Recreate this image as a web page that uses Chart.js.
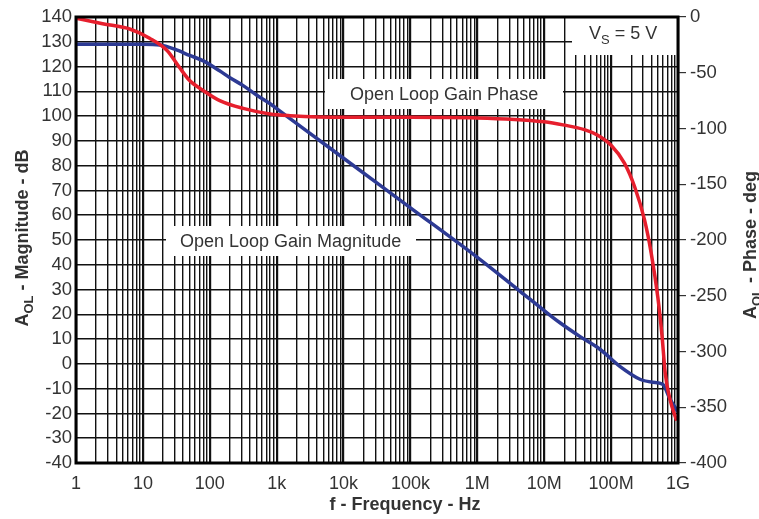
<!DOCTYPE html>
<html>
<head>
<meta charset="utf-8">
<script src="https://cdn.jsdelivr.net/npm/chart.js@4/dist/chart.umd.min.js"></script>
<style>
  html, body { margin: 0; padding: 0; background: #fff; }
  canvas { display: block; }
</style>
</head>
<body>
<canvas id="bode" width="759" height="519"></canvas>
<script>
// ── Data ─────────────────────────────────────────────────────────────────────

const DECADES = [1, 10, 100, 1e3, 1e4, 1e5, 1e6, 1e7, 1e8, 1e9];
const DECADE_LABELS = ['1', '10', '100', '1k', '10k', '100k', '1M', '10M', '100M', '1G'];

// open loop gain magnitude (dB, left axis)
const MAG_FREQ = [1, 10, 18, 30, 50, 80, 140, 200, 316, 500, 800, 1e3, 1e4, 1e5, 1e6,
  4.4e6, 1e7, 1.7e7, 3.4e7, 6.8e7, 1.35e8, 2.7e8, 4.2e8, 5.9e8, 7.6e8, 1e9];
const MAG_DB = [129, 129, 128.7, 127, 124.5, 122.3, 118.3, 115.5, 112.3, 108.5, 105, 103, 83, 63, 43,
  29.2, 21.5, 16.7, 11.1, 5.9, -1, -6.2, -7.4, -8.2, -14.2, -19.4];

// open loop gain phase (deg, right axis)
const PHASE_FREQ = [1, 2.5, 6.5, 12.6, 23, 35, 50, 80, 141, 316, 794, 1585, 1e4, 1e5, 1e6,
  1e7, 2e7, 3.98e7, 6.31e7, 1e8, 1.58e8, 2.24e8, 3.16e8, 3.98e8, 5.01e8, 5.75e8, 6.46e8, 7.59e8, 9.55e8];
const PHASE_DEG = [-1, -6, -11, -19, -30, -45, -57, -66, -75, -82, -87, -88.5, -90, -90, -90.5,
  -94, -97, -101, -106, -115, -131, -152, -182, -212, -252, -285, -320, -343, -362];

const MAG_RANGE = [-40, 140];
const PHASE_RANGE = [-400, 0];

// ── Helpers ──────────────────────────────────────────────────────────────────

const TEXT = '#333';
const FONT = '"Liberation Sans", Arial, sans-serif';

function isDecade(v) {
  const l = Math.log10(v);
  return Math.abs(l - Math.round(l)) < 1e-6;
}

function gridFreqs() {
  const out = [];
  DECADES.forEach((d, i) => {
    if (i === DECADES.length - 1) { out.push(d); return; }
    for (let m = 1; m <= 9; m++) out.push(d * m);
  });
  return out;
}

function toPoints(xs, ys) {
  return xs.map((x, i) => ({ x, y: ys[i] }));
}

// draws text made of plain/subscript parts, starting at x (left), baseline y
function drawParts(ctx, parts, x, y, size, weight) {
  parts.forEach(p => {
    const s = p.sub ? size * 0.72 : size;
    ctx.font = `${weight} ${s}px ${FONT}`;
    ctx.fillText(p.t, x, p.sub ? y + size * 0.28 : y);
    x += ctx.measureText(p.t).width;
  });
}

function partsWidth(ctx, parts, size, weight) {
  let w = 0;
  parts.forEach(p => {
    ctx.font = `${weight} ${p.sub ? size * 0.72 : size}px ${FONT}`;
    w += ctx.measureText(p.t).width;
  });
  return w;
}

function drawVerticalTitle(ctx, parts, cx, cy, size) {
  ctx.save();
  ctx.translate(cx, cy);
  ctx.rotate(-Math.PI / 2);
  const w = partsWidth(ctx, parts, size, 'bold');
  drawParts(ctx, parts, -w / 2, size * 0.35, size, 'bold');
  ctx.restore();
}

// ── Decorations: label boxes, frame, axis titles ─────────────────────────────

const decor = {
  id: 'decor',
  beforeDatasetsDraw(chart) {
    const ctx = chart.ctx;
    ctx.save();
    ctx.fillStyle = '#fff';
    ctx.fillRect(325, 79, 238, 30);
    ctx.fillRect(166, 226, 250, 30);
    ctx.fillRect(572, 17, 106, 38);

    ctx.fillStyle = TEXT;
    ctx.textBaseline = 'alphabetic';
    ctx.textAlign = 'left';
    ctx.font = `18px ${FONT}`;
    ctx.fillText('Open Loop Gain Phase', 350, 100);
    ctx.fillText('Open Loop Gain Magnitude', 180, 247);
    drawParts(ctx, [{ t: 'V' }, { t: 'S', sub: true }, { t: ' = 5 V' }], 589, 39, 18, 'normal');
    ctx.restore();
  },
  afterDraw(chart) {
    const ctx = chart.ctx;
    const a = chart.chartArea;
    ctx.save();
    ctx.strokeStyle = '#000';
    ctx.lineWidth = 3;
    ctx.strokeRect(a.left, a.top, a.right - a.left, a.bottom - a.top);

    ctx.fillStyle = TEXT;
    ctx.textAlign = 'left';
    ctx.textBaseline = 'alphabetic';
    ctx.font = `bold 18px ${FONT}`;
    const xt = 'f - Frequency - Hz';
    ctx.fillText(xt, 405 - ctx.measureText(xt).width / 2, 510);

    drawVerticalTitle(ctx, [{ t: 'A' }, { t: 'OL', sub: true }, { t: ' - Magnitude - dB' }], 22, 238, 18);
    drawVerticalTitle(ctx, [{ t: 'A' }, { t: 'OL', sub: true }, { t: ' - Phase - deg' }], 750, 245, 18);
    ctx.restore();
  }
};

// ── Chart ────────────────────────────────────────────────────────────────────

const xTickFont = { family: FONT, size: 18 };
const yTickFont = { family: FONT, size: 18.5 };

new Chart(document.getElementById('bode').getContext('2d'), {
  type: 'line',
  data: {
    datasets: [
      {
        label: 'Open Loop Gain Phase',
        data: toPoints(PHASE_FREQ, PHASE_DEG),
        yAxisID: 'y2',
        borderColor: '#e61f2d',
        borderWidth: 3.5,
        pointRadius: 0,
        cubicInterpolationMode: 'monotone',
        fill: false,
      },
      {
        label: 'Open Loop Gain Magnitude',
        data: toPoints(MAG_FREQ, MAG_DB),
        yAxisID: 'y',
        borderColor: '#2d3a94',
        borderWidth: 3.5,
        pointRadius: 0,
        cubicInterpolationMode: 'monotone',
        fill: false,
      }
    ],
  },
  options: {
    responsive: false,
    animation: false,
    layout: { padding: { top: 17, left: 0, right: 0, bottom: 0 } },
    plugins: { legend: { display: false }, tooltip: { enabled: false } },
    scales: {
      x: {
        type: 'logarithmic',
        min: DECADES[0],
        max: DECADES[DECADES.length - 1],
        afterBuildTicks: s => { s.ticks = gridFreqs().map(v => ({ value: v })); },
        afterFit: s => { s.height = 56; },
        border: { display: false },
        grid: {
          color: '#111',
          lineWidth: c => (c.tick && isDecade(c.tick.value) ? 2.2 : 1.4),
          drawTicks: false,
        },
        ticks: {
          autoSkip: false,
          maxRotation: 0,
          padding: 10,
          color: TEXT,
          font: xTickFont,
          callback: v => {
            const i = DECADES.findIndex(d => Math.abs(d - v) < d * 1e-6);
            return i >= 0 ? DECADE_LABELS[i] : '';
          },
        },
      },
      y: {
        position: 'left',
        min: MAG_RANGE[0],
        max: MAG_RANGE[1],
        afterFit: s => { s.width = 76; },
        border: { display: false },
        grid: { color: '#111', lineWidth: 1.6, drawTicks: false },
        ticks: { stepSize: 10, autoSkip: false, padding: 4, color: TEXT, font: yTickFont },
      },
      y2: {
        position: 'right',
        min: PHASE_RANGE[0],
        max: PHASE_RANGE[1],
        afterFit: s => { s.width = 81; },
        border: { display: false },
        grid: { drawOnChartArea: false, drawTicks: true, tickLength: 8, color: '#333', lineWidth: 1.2 },
        ticks: { stepSize: 50, autoSkip: false, padding: 4, color: TEXT, font: yTickFont },
      },
    },
  },
  plugins: [decor],
});
</script>
</body>
</html>
